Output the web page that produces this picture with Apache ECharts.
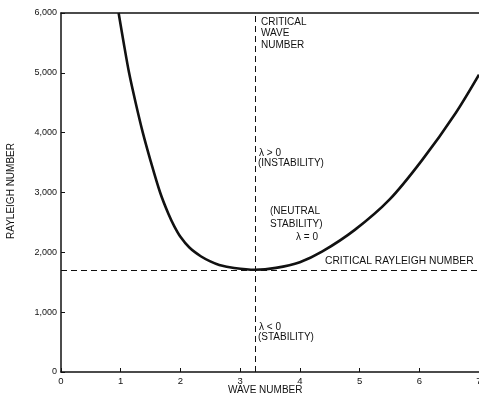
<!DOCTYPE html>
<html>
<head>
<meta charset="utf-8">
<script src="https://cdn.jsdelivr.net/npm/echarts@6/dist/echarts.min.js"></script>
<style>
html,body{margin:0;padding:0;background:#fff;}
#c{width:479px;height:401px;}
</style>
</head>
<body>
<div id="c"></div>
<script>
// Data
const waveNumber = [0.965, 1.05, 1.14, 1.25, 1.37, 1.5, 1.66, 1.8, 1.9, 2.0, 2.15, 2.34, 2.5, 2.65, 2.9, 3.25, 3.6, 4.0, 4.37, 4.92, 5.5, 6.05, 6.61, 7.0];
const rayleigh   = [6000, 5500, 5000, 4500, 4000, 3530, 3000, 2640, 2430, 2260, 2080, 1935, 1850, 1790, 1738, 1708, 1740, 1835, 2010, 2375, 2880, 3545, 4330, 4970];
const criticalWaveNumber = 3.25;
const criticalRayleigh = 1708;
const xTicks = [0, 1, 2, 3, 4, 5, 6, 7];
const yTicks = [0, 1000, 2000, 3000, 4000, 5000, 6000];

const FONT = '"Liberation Sans", Arial, Helvetica, sans-serif';
const INK = '#111';

const chart = echarts.init(document.getElementById('c'), null, {renderer: 'canvas'});
const pts = waveNumber.map((k, i) => [k, rayleigh[i]]);

chart.setOption({
  animation: false,
  backgroundColor: '#fff',
  grid: {left: 61, right: 0, top: 13, bottom: 29, containLabel: false, outerBoundsMode: 'none'},
  xAxis: [{
    type: 'value', min: xTicks[0], max: xTicks[xTicks.length - 1], interval: 1,
    axisLine: {show: true, lineStyle: {color: INK, width: 1.5}},
    axisTick: {show: true, inside: true, length: 4, lineStyle: {color: INK, width: 1}},
    axisLabel: {color: INK, fontSize: 9.5, fontFamily: FONT, margin: 4},
    splitLine: {show: false}
  }, {
    type: 'value', position: 'top', min: 0, max: 7,
    axisLine: {show: true, lineStyle: {color: INK, width: 1.5}},
    axisTick: {show: false}, axisLabel: {show: false}, splitLine: {show: false}
  }],
  yAxis: {
    type: 'value', min: yTicks[0], max: yTicks[yTicks.length - 1], interval: 1000,
    axisLine: {show: true, lineStyle: {color: INK, width: 1.5}},
    axisTick: {show: true, inside: true, length: 4, lineStyle: {color: INK, width: 1}},
    axisLabel: {color: INK, fontSize: 9, fontFamily: FONT, margin: 4,
      formatter: v => v.toLocaleString('en-US')},
    splitLine: {show: false}
  },
  series: [{
    type: 'line',
    data: pts,
    smooth: 0.3,
    showSymbol: false,
    symbol: 'none',
    clip: true,
    lineStyle: {color: INK, width: 2.6},
    markLine: {
      silent: true,
      symbol: ['none', 'none'],
      label: {show: false},
      lineStyle: {color: INK, width: 1, type: [6, 4]},
      data: [{xAxis: criticalWaveNumber}, {yAxis: criticalRayleigh}]
    }
  }],
  graphic: [
    {type: 'text', left: 261, top: 16, style: {text: 'CRITICAL\nWAVE\nNUMBER', font: '10px ' + FONT, fill: INK, lineHeight: 11.5}},
    {type: 'text', left: 259, top: 148, style: {text: 'λ > 0', font: '10px ' + FONT, fill: INK}},
    {type: 'text', left: 258, top: 158, style: {text: '(INSTABILITY)', font: '10px ' + FONT, fill: INK}},
    {type: 'text', left: 270, top: 205, style: {text: '(NEUTRAL\nSTABILITY)', font: '10px ' + FONT, fill: INK, lineHeight: 13}},
    {type: 'text', left: 296, top: 232, style: {text: 'λ = 0', font: '10px ' + FONT, fill: INK}},
    {type: 'text', left: 325, top: 256, style: {text: 'CRITICAL RAYLEIGH NUMBER', font: '10.3px ' + FONT, fill: INK}},
    {type: 'text', left: 259, top: 322, style: {text: 'λ < 0', font: '10px ' + FONT, fill: INK}},
    {type: 'text', left: 258, top: 332, style: {text: '(STABILITY)', font: '10px ' + FONT, fill: INK}},
    {type: 'text', left: 228, top: 385, style: {text: 'WAVE NUMBER', font: '10px ' + FONT, fill: INK}},
    {type: 'text', x: 11, y: 191, rotation: Math.PI / 2,
      style: {text: 'RAYLEIGH NUMBER', font: '10px ' + FONT, fill: INK, align: 'center', verticalAlign: 'middle'}}
  ]
});
</script>
</body>
</html>
